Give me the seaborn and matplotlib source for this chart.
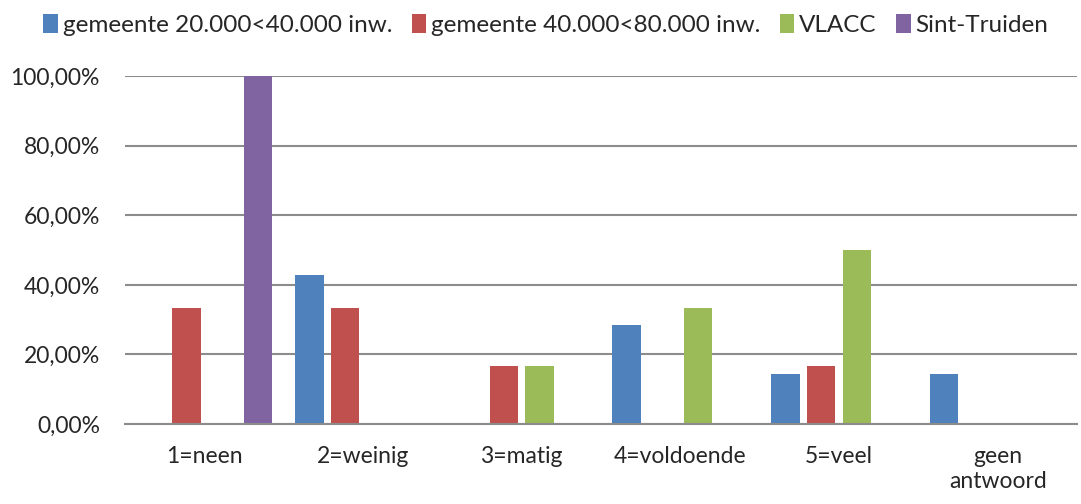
import pandas as pd
import numpy as np
import seaborn as sns
import matplotlib.pyplot as plt
from matplotlib.ticker import FuncFormatter, FixedLocator
from matplotlib.patches import Patch

# Data
categories = ["1=neen", "2=weinig", "3=matig", "4=voldoende", "5=veel", "geen\nantwoord"]
series_names = ["gemeente 20.000<40.000 inw.", "gemeente 40.000<80.000 inw.", "VLACC", "Sint-Truiden"]
gem_20_40 = [0.0, 42.86, 0.0, 28.57, 14.29, 14.29]
gem_40_80 = [33.33, 33.33, 16.67, 0.0, 16.67, 0.0]
vlacc = [0.0, 0.0, 16.67, 33.33, 50.0, 0.0]
sint_truiden = [100.0, 0.0, 0.0, 0.0, 0.0, 0.0]
colors = ["#4F81BD", "#C0504D", "#9BBB59", "#8064A2"]

# long-form table for seaborn
rows = []
for name, vals in zip(series_names, [gem_20_40, gem_40_80, vlacc, sint_truiden]):
    for cat, v in zip(categories, vals):
        rows.append({"cat": cat, "reeks": name, "waarde": v})
df = pd.DataFrame(rows)

sns.set_style("white")
plt.rcParams['font.family'] = ['Lato', 'DejaVu Sans']

fig = plt.figure(figsize=(10.81, 5.04), dpi=100)
ax = fig.add_axes([0.1156, 0.1587, 0.8807, 0.690])

sns.barplot(data=df, x="cat", y="waarde", hue="reeks", order=categories,
            hue_order=series_names, palette=colors, width=0.9, gap=0.2,
            linewidth=0, saturation=1, ax=ax, legend=False)

ax.set_ylim(0, 100)
ax.set_xlim(-0.5, 5.5)
ax.set_yticks(np.arange(0, 101, 20))
ax.yaxis.set_major_formatter(FuncFormatter(lambda v, p: f"{v:.2f}%".replace(".", ",")))
ax.yaxis.grid(True, color="#8c8c8c", linewidth=1.5)
ax.set_axisbelow(True)

for s in ["left", "right", "top"]:
    ax.spines[s].set_visible(False)
ax.spines["bottom"].set_color("#8c8c8c")
ax.spines["bottom"].set_linewidth(1.5)

# category labels without tick marks, boundary ticks as minor
ax.tick_params(axis="x", which="major", length=0, pad=16, labelsize=16.5)
for lbl in ax.get_xticklabels():
    lbl.set_linespacing(1.25)
ax.xaxis.set_minor_locator(FixedLocator(np.arange(-0.5, 6.0, 1.0)))
ax.tick_params(axis="x", which="minor", length=8, width=1.5, color="#8c8c8c", direction="inout")
ax.tick_params(axis="y", length=0, pad=18, labelsize=16.5)
ax.set_xlabel("")
ax.set_ylabel("")

handles = [Patch(facecolor=c, edgecolor="none") for c in colors]
fig.legend(handles, series_names, loc="upper center", bbox_to_anchor=(0.505, 1.015),
           ncol=4, frameon=False, fontsize=17.5, handlelength=0.6, handleheight=0.8,
           handletextpad=0.2, columnspacing=0.8)

plt.savefig("out.png", dpi=100)
plt.close()
